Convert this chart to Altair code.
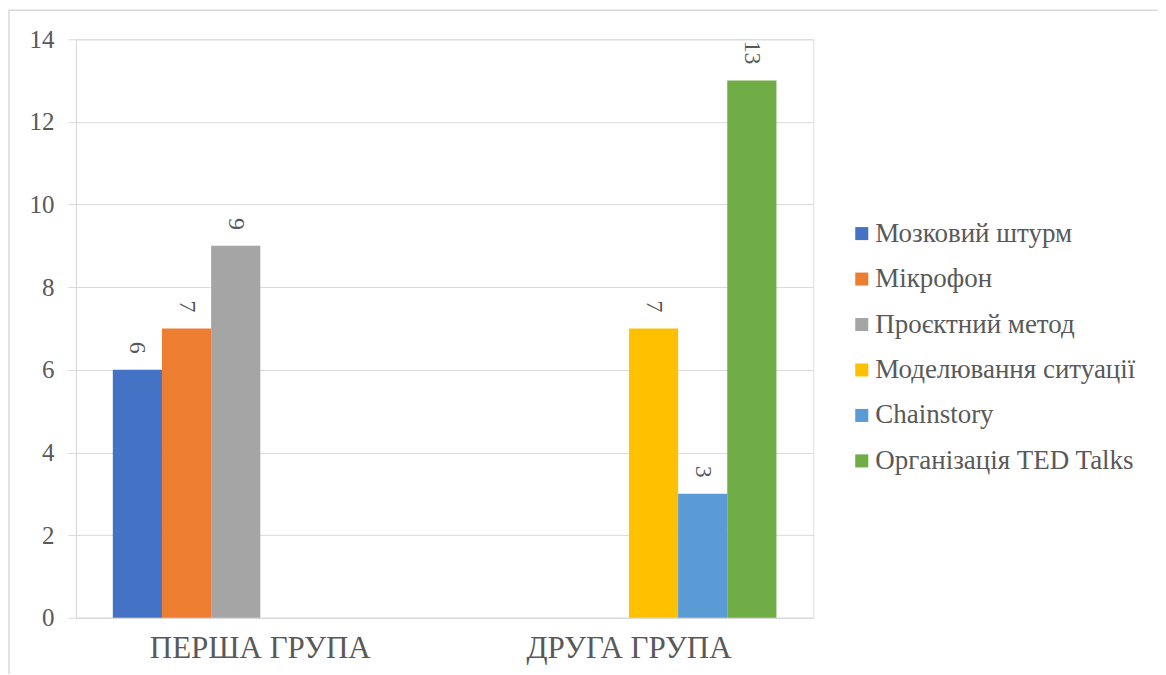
import altair as alt
import pandas as pd

groups = ["ПЕРША ГРУПА", "ПЕРША ГРУПА", "ПЕРША ГРУПА", "ДРУГА ГРУПА", "ДРУГА ГРУПА", "ДРУГА ГРУПА"]
series = ["Мозковий штурм", "Мікрофон", "Проєктний метод", "Моделювання ситуації", "Chainstory", "Організація TED Talks"]
values = [6, 7, 9, 7, 3, 13]
group_order = ["ПЕРША ГРУПА", "ДРУГА ГРУПА"]
colors = ["#4472C4", "#ED7D31", "#A5A5A5", "#FFC000", "#5B9BD5", "#70AD47"]

df = pd.DataFrame({"group": groups, "series": series, "value": values})

FONT = "'Liberation Serif', 'Times New Roman', Times, 'DejaVu Serif', serif"
TXT = "#595959"

x = alt.X("group:N", sort=group_order, title=None,
          scale=alt.Scale(paddingInner=0.2, paddingOuter=0.1),
          axis=alt.Axis(labelAngle=0, labelFont=FONT, labelFontSize=31, labelColor=TXT,
                        labelLimit=500, ticks=False, domainColor="#D9D9D9",
                        labelPadding=16, grid=False))
xo = alt.XOffset("series:N", sort=series, scale=alt.Scale(paddingInner=0, paddingOuter=0))
y = alt.Y("value:Q", title=None, scale=alt.Scale(domain=[0, 14]),
          axis=alt.Axis(values=[0, 2, 4, 6, 8, 10, 12, 14], labelFont=FONT, labelFontSize=25,
                        labelColor=TXT, tickColor="#D9D9D9", tickSize=8, labelPadding=14,
                        domainColor="#D9D9D9", gridColor="#D9D9D9", grid=True))

bars = alt.Chart(df).mark_bar().encode(
    x=x, xOffset=xo, y=y,
    color=alt.Color("series:N", sort=series, title=None,
                    scale=alt.Scale(domain=series, range=colors),
                    legend=alt.Legend(orient="none", legendX=773, legendY=181,
                                      symbolType="square", symbolSize=170,
                                      symbolStrokeWidth=0, labelFont=FONT,
                                      labelFontSize=27, labelColor=TXT,
                                      rowPadding=17.5, labelOffset=0, labelLimit=400)),
)

labels = alt.Chart(df).mark_text(angle=90, align="right", baseline="middle", dx=-16,
                                 font=FONT, fontSize=24, color=TXT).encode(
    x=x, xOffset=xo, y=y, text=alt.Text("value:Q"))

border = alt.Chart(pd.DataFrame({"a": [0]})).mark_rect(
    fill=None, stroke="#D9D9D9", strokeWidth=1.5, clip=False).encode(
    x=alt.value(-67), x2=alt.value(1086), y=alt.value(-29), y2=alt.value(640))

chart = alt.layer(border, bars, labels).properties(
    width=738, height=579,
    padding={"left": 68, "top": 31, "right": 345, "bottom": 56},
    autosize=alt.AutoSizeParams(type="none"),
).configure_view(stroke=None).configure(background="white", font=FONT)

chart.save("out.html", embed_options={"renderer": "svg", "actions": False})
